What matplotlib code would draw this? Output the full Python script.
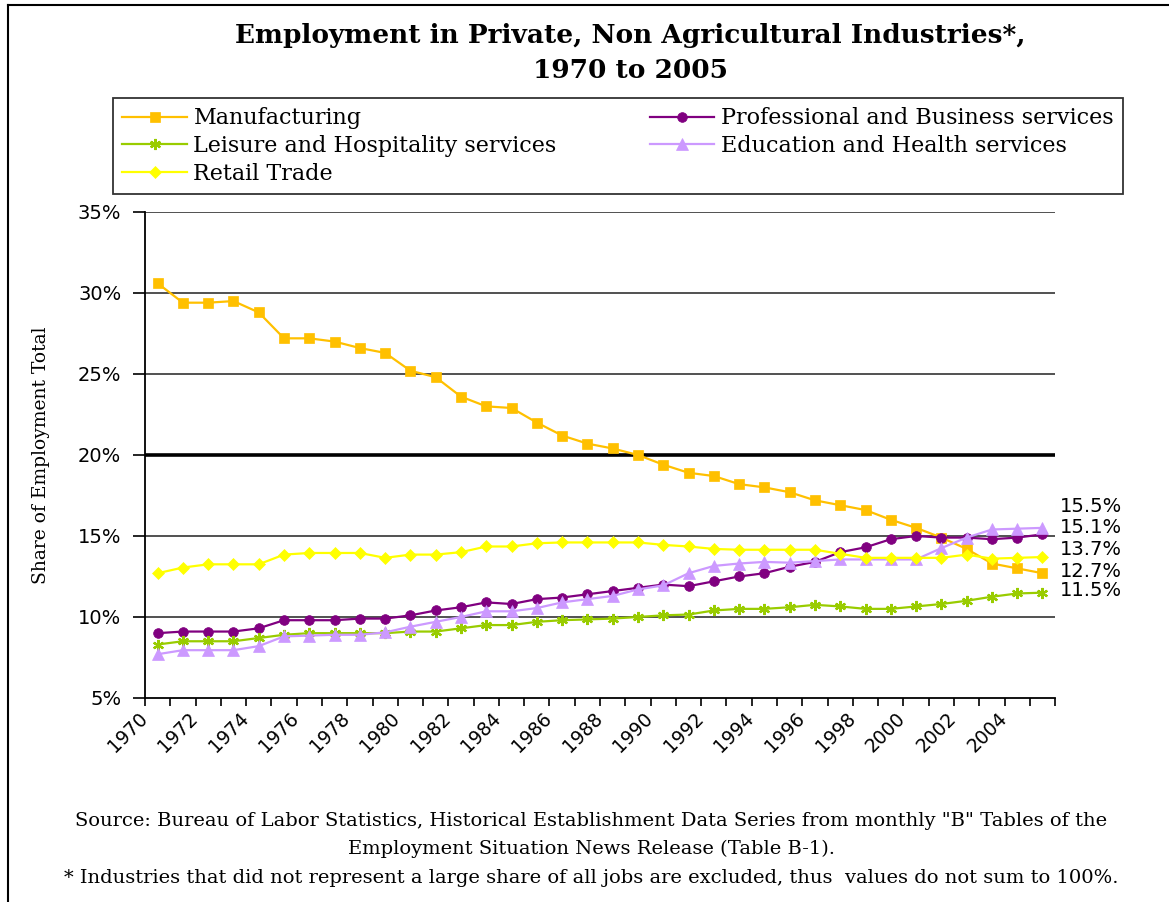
import matplotlib
matplotlib.use('Agg')
import matplotlib.pyplot as plt
import matplotlib.transforms as mtransforms
from matplotlib.lines import Line2D

years = list(range(1970, 2006))
year_labels = [str(y) for y in range(1970, 2006, 2)]

manufacturing = [30.6, 29.4, 29.4, 29.5, 28.8, 27.2, 27.2, 27.0, 26.6, 26.3,
                 25.2, 24.8, 23.6, 23.0, 22.9, 22.0, 21.2, 20.7, 20.4, 20.0,
                 19.4, 18.9, 18.7, 18.2, 18.0, 17.7, 17.2, 16.9, 16.6, 16.0,
                 15.5, 14.9, 14.2, 13.3, 13.0, 12.7]
professional = [9.0, 9.1, 9.1, 9.1, 9.3, 9.8, 9.8, 9.8, 9.9, 9.9,
                10.1, 10.4, 10.6, 10.9, 10.8, 11.1, 11.2, 11.4, 11.6, 11.8,
                12.0, 11.9, 12.2, 12.5, 12.7, 13.1, 13.4, 14.0, 14.3, 14.8,
                15.0, 14.9, 14.9, 14.8, 14.9, 15.1]
leisure = [8.3, 8.5, 8.5, 8.5, 8.7, 8.9, 9.0, 9.0, 9.0, 9.0,
           9.1, 9.1, 9.3, 9.5, 9.5, 9.7, 9.8, 9.85, 9.9, 10.0,
           10.1, 10.15, 10.4, 10.5, 10.5, 10.6, 10.75, 10.65, 10.5, 10.5,
           10.65, 10.8, 11.0, 11.25, 11.45, 11.5]
education = [7.7, 7.95, 7.95, 7.95, 8.2, 8.8, 8.85, 8.9, 8.9, 9.05,
             9.4, 9.7, 10.0, 10.35, 10.35, 10.55, 10.9, 11.1, 11.3, 11.7,
             11.95, 12.7, 13.15, 13.3, 13.4, 13.35, 13.45, 13.55, 13.55, 13.55,
             13.55, 14.25, 14.9, 15.4, 15.45, 15.5]
retail = [12.7, 13.05, 13.25, 13.25, 13.25, 13.85, 13.95, 13.95, 13.95, 13.65,
          13.85, 13.85, 14.0, 14.35, 14.35, 14.55, 14.6, 14.6, 14.6, 14.6,
          14.45, 14.35, 14.2, 14.15, 14.15, 14.15, 14.15, 13.9, 13.65, 13.65,
          13.65, 13.65, 13.85, 13.6, 13.65, 13.7]

# name, values, colour, marker, marker size, end label y-offset (px)
series = [
    ('Manufacturing', manufacturing, '#FFC000', 's', 7.5, 2),
    ('Professional and Business services', professional, '#800080', 'o', 7, 7),
    ('Leisure and Hospitality services', leisure, '#99CC00', (6, 2, 0), 8, 2),
    ('Education and Health services', education, '#CC99FF', '^', 8.5, 21),
    ('Retail Trade', retail, '#FFFF00', 'D', 6.5, 8),
]

serif = 'DejaVu Serif'
sans = 'DejaVu Sans'

fig = plt.figure(figsize=(11.69, 9.02), dpi=100)
ax = fig.add_axes([0.124, 0.2262, 0.7786, 0.5388])

# gridlines
for v in range(10, 36, 5):
    ax.axhline(v, color='black' if v == 20 else '#222222',
               lw=2.6 if v == 20 else 1.1, zorder=1)

handles = []
for name, vals, col, mk, ms, dy in series:
    mew = 1.6 if mk == (6, 2, 0) else 0.5
    ln, = ax.plot(years, vals, color=col, lw=1.6, marker=mk, ms=ms,
                  mfc=col, mec=col, mew=mew, label=name, zorder=3)
    handles.append(ln)
    ax.annotate('%.1f%%' % vals[-1], xy=(years[-1], vals[-1]),
                xytext=(17, dy), textcoords='offset pixels',
                fontsize=14, family=sans, va='center', ha='left',
                annotation_clip=False)

ax.set_xlim(1969.5, 2005.5)
ax.set_ylim(5, 35)
ax.set_yticks(range(5, 36, 5))
ax.set_yticklabels(['%d%%' % v for v in range(5, 36, 5)], fontsize=14, family=sans)
ax.set_xticks([x + 0.5 for x in range(1969, 2006)], minor=True)
ax.set_xticks(range(1970, 2006, 2))
ax.set_xticklabels(year_labels, rotation=45, ha='right', va='top',
                   rotation_mode='anchor', fontsize=13.5, family=sans)
ax.tick_params(axis='x', which='major', length=0, pad=8)
ax.tick_params(axis='x', which='minor', length=6, direction='out', width=1.2)
ax.tick_params(axis='y', length=9, width=1.2, pad=8)
offset = mtransforms.ScaledTranslation(-0.2, 0, fig.dpi_scale_trans)
for lbl in ax.get_xticklabels():
    lbl.set_transform(lbl.get_transform() + offset)

ax.spines['top'].set_visible(False)
ax.spines['right'].set_visible(False)
ax.spines['left'].set_linewidth(1.3)
ax.spines['bottom'].set_linewidth(1.3)

ax.set_ylabel('Share of Employment Total', fontsize=13.5, family=serif, labelpad=20)

fig.text(0.539, 0.974, 'Employment in Private, Non Agricultural Industries*,\n1970 to 2005',
         ha='center', va='top', fontsize=19, fontweight='bold', family=serif,
         linespacing=1.5)

order = [0, 2, 4, 1, 3]
leg = fig.legend([handles[i] for i in order], [series[i][0] for i in order],
                 loc='upper left', bbox_to_anchor=(113 / 1169, 1 - 98 / 902),
                 ncol=2, frameon=True, fancybox=False,
                 edgecolor='black', prop={'family': serif, 'size': 16},
                 handlelength=2.9, handletextpad=0.3, labelspacing=0.26,
                 columnspacing=4.2, borderaxespad=0, borderpad=0.42)
leg.get_frame().set_linewidth(1.3)

note_size = 14
fig.text(0.506, 0.09, 'Source: Bureau of Labor Statistics, Historical Establishment Data Series from monthly "B" Tables of the',
         ha='center', va='center', fontsize=note_size, family=serif)
fig.text(0.506, 0.059, 'Employment Situation News Release (Table B-1).',
         ha='center', va='center', fontsize=note_size, family=serif)
fig.text(0.506, 0.027, '* Industries that did not represent a large share of all jobs are excluded, thus  values do not sum to 100%.',
         ha='center', va='center', fontsize=note_size, family=serif)

# outer chart border (left and top visible)
fig.add_artist(Line2D([0.007, 0.007], [0.0, 0.995], color='black', lw=1.5))
fig.add_artist(Line2D([0.007, 1.0], [0.995, 0.995], color='black', lw=1.5))

fig.savefig('out.png', dpi=100)
